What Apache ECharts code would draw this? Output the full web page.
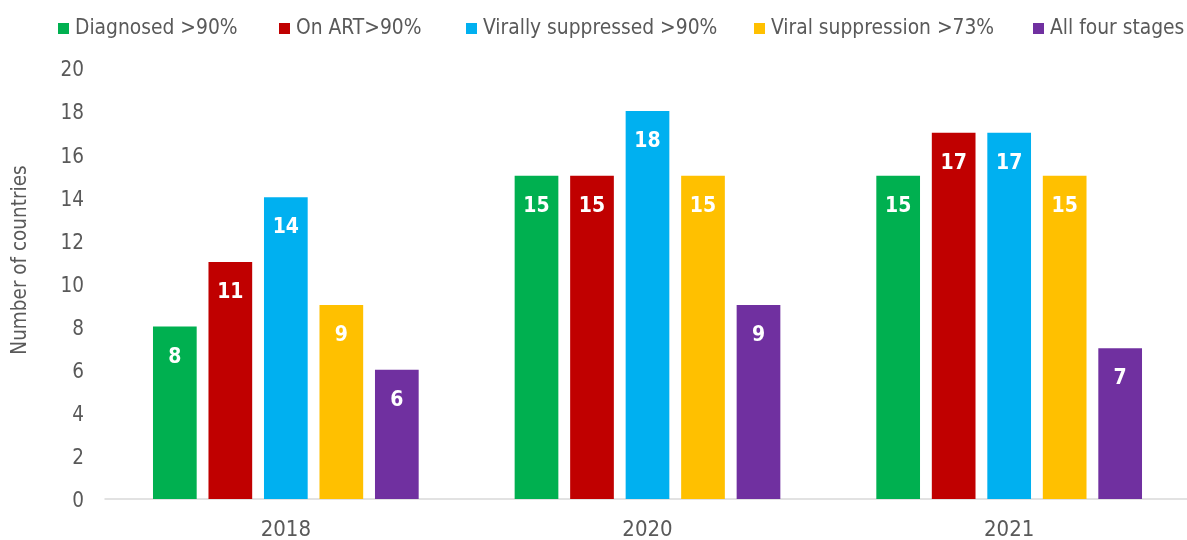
<!DOCTYPE html>
<html>
<head>
<meta charset="utf-8">
<script src="https://cdn.jsdelivr.net/npm/echarts@6/dist/echarts.min.js"></script>
<style>
  html, body { margin: 0; padding: 0; background: #fff; }
  #chart { width: 1187px; height: 540px; }
</style>
</head>
<body>
<div id="chart"></div>
<script>
// Number of countries reaching each treatment target, by year
const years = ['2018', '2020', '2021'];
const seriesNames = ['Diagnosed >90%', 'On ART>90%', 'Virally suppressed >90%', 'Viral suppression >73%', 'All four stages'];
const diagnosed = [8, 15, 15];
const onArt = [11, 15, 17];
const virallySuppressed = [14, 18, 17];
const viralSuppression73 = [9, 15, 15];
const allFourStages = [6, 9, 7];
const yTicks = { min: 0, max: 20, interval: 2 };

const colors = ['#00B050', '#C00000', '#00B0F0', '#FFC000', '#7030A0'];
const values = [diagnosed, onArt, virallySuppressed, viralSuppression73, allFourStages];
const FONT = '"DejaVu Sans Condensed", "DejaVu Sans", sans-serif';
const TEXT = '#595959';

// one legend per entry so each sits at its own x position
const legendLefts = [58, 279, 466, 754, 1033];
const legends = seriesNames.map((name, i) => ({
  data: [name],
  left: legendLefts[i],
  top: 18,
  icon: 'rect',
  itemWidth: 11,
  itemHeight: 11,
  padding: 0,
  textStyle: { fontFamily: FONT, fontSize: 20.8, color: TEXT, padding: [0, 0, 0, 1] }
}));

const chart = echarts.init(document.getElementById('chart'), null, { renderer: 'canvas' });
chart.setOption({
  animation: false,
  backgroundColor: '#ffffff',
  legend: legends,
  grid: { left: 105, right: -3, top: 68, bottom: 41, containLabel: false, outerBoundsMode: 'none' },
  xAxis: {
    type: 'category',
    data: years,
    axisLine: { lineStyle: { color: '#D9D9D9', width: 1.5 } },
    axisTick: { show: false },
    axisLabel: { fontFamily: FONT, fontSize: 22, color: TEXT, margin: 20 }
  },
  yAxis: {
    type: 'value',
    min: yTicks.min,
    max: yTicks.max,
    interval: yTicks.interval,
    name: 'Number of countries',
    nameLocation: 'middle',
    nameGap: 74,
    nameTextStyle: { fontFamily: FONT, fontSize: 20.5, color: TEXT, padding: [0, 0, 0, 47] },
    axisLine: { show: false },
    axisTick: { show: false },
    splitLine: { show: false },
    axisLabel: {
      margin: 21,
      formatter: '{v|{value}}',
      rich: { v: { fontFamily: FONT, fontSize: 20.5, color: TEXT, padding: [6, 0, 0, 0] } }
    }
  },
  series: seriesNames.map((name, i) => ({
    name,
    type: 'bar',
    data: values[i],
    barWidth: 43.7,
    barGap: '27%',
    itemStyle: { color: colors[i] },
    label: {
      show: true,
      position: 'insideTop',
      distance: 20,
      color: '#ffffff',
      fontFamily: FONT,
      fontWeight: 'bold',
      fontSize: 21
    }
  }))
});
</script>
</body>
</html>
